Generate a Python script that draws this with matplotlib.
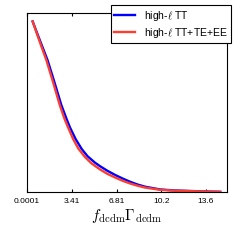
import matplotlib
matplotlib.use("Agg")
import matplotlib.pyplot as plt

plt.rcParams['font.family'] = ['Liberation Sans', 'DejaVu Sans']
plt.rcParams['mathtext.fontset'] = 'cm'

x_tt = [0.43, 1.00, 1.56, 2.10, 2.61, 3.00, 3.27, 3.70, 4.16, 4.60, 5.17, 5.56, 6.10, 6.70, 7.30, 7.84, 8.40, 8.98, 10.12, 11.2, 12.4, 13.5, 14.69]
y_tt = [1.0, 0.885, 0.774, 0.64, 0.510, 0.43, 0.378, 0.310, 0.252, 0.210, 0.172, 0.151, 0.125, 0.100, 0.078, 0.060, 0.044, 0.031, 0.015, 0.009, 0.006, 0.003, 0.001]

x_all = [0.43, 0.95, 1.47, 2.00, 2.49, 2.85, 3.10, 3.50, 3.90, 4.41, 4.92, 5.56, 6.10, 6.70, 7.30, 7.84, 8.40, 8.98, 10.12, 11.2, 12.4, 13.5, 14.69]
y_all = [1.0, 0.885, 0.774, 0.64, 0.510, 0.43, 0.383, 0.312, 0.255, 0.205, 0.167, 0.132, 0.107, 0.085, 0.065, 0.050, 0.037, 0.026, 0.013, 0.008, 0.005, 0.003, 0.001]

tick_vals = [0.0001, 3.41, 6.81, 10.2, 13.6]
tick_labels = ['0.0001', '3.41', '6.81', '10.2', '13.6']

fig = plt.figure(figsize=(2.4, 2.4), dpi=100)
ax = fig.add_axes([0.1125, 0.2, 0.834, 0.746])
ax.plot(x_tt, y_tt, color='#0000ff', lw=1.7, label=r'high-$\ell$ TT')
ax.plot(x_all, y_all, color='#ff3d2e', lw=1.7, label=r'high-$\ell$ TT+TE+EE')
ax.set_xlim(0.0001, 15.22)
ax.set_ylim(0, 1.05)
ax.set_yticks([])
ax.set_xticks(tick_vals)
ax.set_xticklabels(tick_labels)
ax.tick_params(axis='x', direction='in', top=True, length=2.5, labelsize=6, pad=4)
ax.set_xlabel(r'$f_{\rm dcdm}\Gamma_{\rm dcdm}$', fontsize=11, labelpad=2)
leg = ax.legend(loc='upper right', bbox_to_anchor=(231/240, 235/240), bbox_transform=fig.transFigure,
                fontsize=7.5, fancybox=False, framealpha=1, edgecolor='black', borderpad=0.35,
                handlelength=2.0, labelspacing=0.3, borderaxespad=0)
leg.get_frame().set_linewidth(0.8)
fig.savefig('out.png', dpi=100)
